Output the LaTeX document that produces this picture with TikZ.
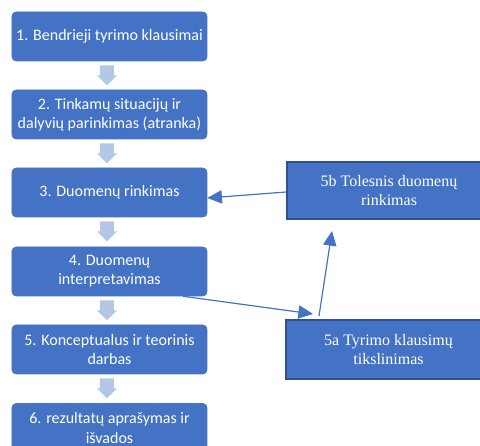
\documentclass[tikz,border=0pt]{standalone}
\usepackage{fontspec}
\setmainfont{Carlito}
\newfontfamily\serifbox{Liberation Serif}
\usetikzlibrary{arrows.meta,calc}
\definecolor{obox}{HTML}{4472C4}
\definecolor{oborder}{HTML}{2F528F}
\definecolor{oarrow}{HTML}{B4C7E7}
\tikzset{
  stepbox/.style={fill=obox, draw=obox, rounded corners=3pt, minimum width=146.25pt, minimum height=36.75pt,
    inner sep=0pt, align=center, text=white, font=\fontsize{12}{14.3}\selectfont},
  sidebox/.style={fill=obox, draw=oborder, line width=1.5pt, minimum width=153pt, minimum height=43pt,
    inner sep=0pt, align=center, text=white, font=\serifbox\fontsize{12}{14.2}\selectfont},
  conn/.style={draw=obox, line width=0.9pt, -{Triangle[length=11pt,width=10pt]}},
  barrow/.style={fill=oarrow}
}
\newcommand{\blockarr}[1]{%
  \fill[barrow] ($(#1.south)+(-2.5,4)$) ++(-7,0) -- ++(0,10) -- ++(-3,0) -- ++(10,10) -- ++(10,-10) -- ++(-3,0) -- ++(0,-10) -- cycle;}
\begin{document}
\begin{tikzpicture}[x=0.75pt,y=-0.75pt]
\clip (0,0) rectangle (480,446);
\node[stepbox] (b1) at (109.5,36.5) {1. Bendrieji tyrimo klausimai};
\node[stepbox] (b2) at (109.5,114.5) {2. Tinkamų situacijų ir\\dalyvių parinkimas (atranka)};
\node[stepbox] (b3) at (109.5,192.5) {3. Duomenų rinkimas};
\node[stepbox] (b4) at (109.5,271.5) {4. Duomenų\\interpretavimas};
\node[stepbox] (b5) at (109.5,349.5) {5. Konceptualus ir teorinis\\darbas};
\node[stepbox] (b6) at (109.5,428) {6. rezultatų aprašymas ir\\išvados};
\blockarr{b1}
\blockarr{b2}
\blockarr{b3}
\blockarr{b4}
\blockarr{b5}
\node[sidebox, minimum height=42.75pt] (s5b) at (389,190.5) {5b Tolesnis duomenų\\rinkimas};
\node[sidebox, minimum height=44.25pt] (s5a) at (388.5,349.5) {5a Tyrimo klausimų\\tikslinimas};
\draw[conn] ($(s5b.west)+(0,1.5)$) -- ($(b3.east)+(0,5.5)$);
\draw[conn] ($(b4.south)+(73.5,0)$) -- ($(s5a.north)+(-75.5,-5)$);
\draw[conn] ($(s5a.north)+(-69.5,-3)$) -- ($(s5b.south)+(-57,11)$);
\end{tikzpicture}
\end{document}
